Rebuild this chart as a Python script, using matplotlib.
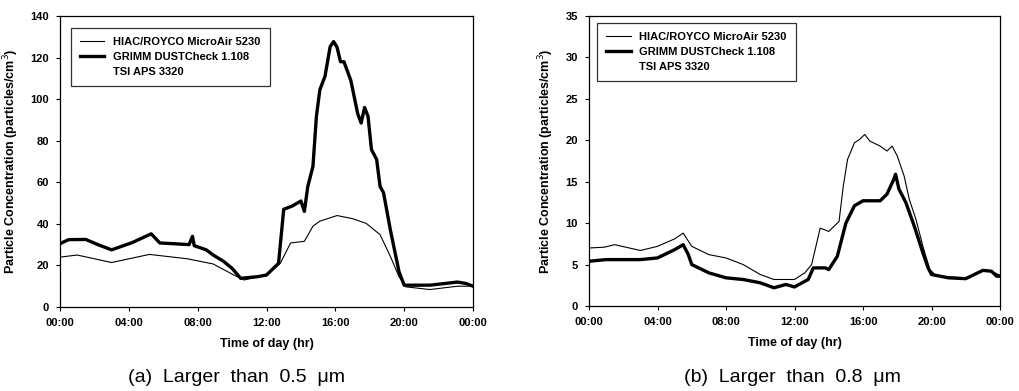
import matplotlib
matplotlib.use("Agg")
import matplotlib.pyplot as plt
from matplotlib.lines import Line2D

# ---- data (hours of day, concentration) ----
# (a) larger than 0.5 um
a_hiac_t = [0, 1.0, 3.0, 5.2, 7.4, 8.9, 10.1, 10.7, 12.0, 12.8, 13.4, 14.2, 14.7, 15.1, 16.1, 17.0, 17.8, 18.6, 19.2, 19.7, 20.1, 21.5, 23.1, 24.0]
a_hiac_v = [24.0, 25.0, 21.4, 25.3, 23.2, 20.7, 15.4, 13.0, 15.4, 21.0, 30.8, 31.6, 38.9, 41.3, 44.0, 42.5, 40.2, 34.8, 24.3, 14.6, 9.7, 8.4, 10.0, 10.0]

a_grimm_t = [0, 0.5, 1.5, 2.2, 3.0, 4.2, 5.3, 5.8, 6.5, 7.5, 7.7, 7.8, 8.5, 8.9, 9.5, 10.0, 10.5, 11.5, 12.0, 12.7, 13.0, 13.5, 14.0, 14.2, 14.4, 14.7, 14.9, 15.1, 15.4, 15.7, 15.9, 16.1, 16.3, 16.5, 16.9, 17.3, 17.5, 17.7, 17.9, 18.1, 18.4, 18.6, 18.8, 19.2, 19.7, 20.0, 21.5, 23.1, 23.6, 24.0]
a_grimm_v = [30.5, 32.4, 32.5, 30.0, 27.5, 31.0, 35.2, 30.8, 30.5, 30.0, 34.0, 29.5, 27.5, 25.0, 22.0, 18.6, 13.8, 14.6, 15.4, 21.0, 47.0, 48.6, 51.0, 46.0, 58.0, 67.7, 91.7, 104.5, 111.0, 125.3, 127.7, 125.0, 118.0, 118.0, 109.0, 93.0, 88.5, 96.0, 91.7, 75.7, 71.0, 58.0, 55.0, 37.0, 17.0, 10.5, 10.5, 12.0, 11.3, 10.0]

# (b) larger than 0.8 um
b_hiac_t = [0, 0.9, 1.5, 3.0, 4.0, 5.0, 5.5, 6.0, 7.0, 8.0, 9.0, 10.0, 10.8, 12.0, 12.6, 13.0, 13.5, 14.0, 14.6, 14.85, 15.1, 15.5, 15.8, 16.1, 16.4, 17.0, 17.4, 17.7, 18.0, 18.4, 18.7, 19.1, 19.5, 19.9, 20.3, 21.0, 22.0, 23.0, 23.4, 24.0]
b_hiac_v = [7.0, 7.1, 7.4, 6.7, 7.2, 8.1, 8.8, 7.2, 6.2, 5.8, 5.0, 3.8, 3.2, 3.2, 4.0, 5.0, 9.4, 9.0, 10.2, 14.5, 17.7, 19.7, 20.1, 20.7, 19.9, 19.3, 18.7, 19.3, 18.1, 15.7, 12.9, 10.4, 7.2, 4.4, 3.6, 3.5, 3.4, 4.2, 4.3, 3.7]

b_grimm_t = [0, 1.0, 3.0, 4.0, 5.0, 5.5, 5.8, 6.0, 7.0, 8.0, 9.0, 10.0, 10.8, 11.5, 12.0, 12.8, 13.1, 13.8, 14.0, 14.5, 15.0, 15.5, 16.0, 17.0, 17.4, 17.8, 17.9, 18.1, 18.5, 19.0, 19.5, 19.8, 20.0, 21.0, 22.0, 23.0, 23.5, 23.8, 24.0]
b_grimm_v = [5.4, 5.6, 5.6, 5.8, 6.8, 7.4, 6.2, 5.0, 4.0, 3.4, 3.2, 2.8, 2.2, 2.6, 2.3, 3.2, 4.6, 4.6, 4.4, 6.0, 10.0, 12.1, 12.7, 12.7, 13.5, 15.3, 15.9, 14.1, 12.5, 9.6, 6.4, 4.6, 3.8, 3.4, 3.3, 4.3, 4.2, 3.6, 3.6]

x_ticks = [0, 4, 8, 12, 16, 20, 24]
x_ticklabels = ["00:00", "04:00", "08:00", "12:00", "16:00", "20:00", "00:00"]
series_names = ["HIAC/ROYCO MicroAir 5230", "GRIMM DUSTCheck 1.108", "TSI APS 3320"]

plt.rcParams['font.family'] = ['Liberation Sans', 'DejaVu Sans']

fig = plt.figure(figsize=(10.19, 3.91), dpi=100)
W, H = 1019, 391
ax1 = fig.add_axes([60 / W, 1 - 307 / H, 413 / W, 291 / H])
ax2 = fig.add_axes([589 / W, 1 - 306 / H, 411 / W, 290 / H])

panels = [
    (ax1, a_hiac_t, a_hiac_v, a_grimm_t, a_grimm_v, 140, 20, "(a)  Larger  than  0.5  μm", 236 / W, (0.027, 0.959)),
    (ax2, b_hiac_t, b_hiac_v, b_grimm_t, b_grimm_v, 35, 5, "(b)  Larger  than  0.8  μm", 792 / W, (0.02, 0.976)),
]

for ax, ht, hv, gt, gv, ymax, ystep, cap, capx, anchor in panels:
    ax.plot(ht, hv, color='black', lw=0.8)
    ax.plot(gt, gv, color='black', lw=2.4)
    ax.set_xlim(0, 24)
    ax.set_ylim(0, ymax)
    ax.set_xticks(x_ticks)
    ax.set_xticklabels(x_ticklabels)
    ax.set_yticks(range(0, ymax + 1, ystep))
    ax.tick_params(direction='out', length=3, width=0.8, labelsize=8, pad=5)
    for lab in ax.get_xticklabels() + ax.get_yticklabels():
        lab.set_fontweight('bold')
    for sp in ax.spines.values():
        sp.set_linewidth(0.9)
    ax.set_xlabel("Time of day (hr)", fontsize=9, fontweight='bold', labelpad=7)
    ax.set_ylabel("Particle Concentration (particles/cm$^3$)", fontsize=9, fontweight='bold', labelpad=7)
    handles = [Line2D([], [], color='black', lw=0.8),
               Line2D([], [], color='black', lw=2.4),
               Line2D([], [], color='none', lw=0)]
    leg = ax.legend(handles, series_names, loc='upper left', fontsize=8,
                    frameon=True, fancybox=False, edgecolor='black',
                    handlelength=2.2, borderpad=0.8, labelspacing=0.45,
                    bbox_to_anchor=anchor, borderaxespad=0)
    leg.get_frame().set_linewidth(0.9)
    for t in leg.get_texts():
        t.set_fontweight('bold')
    fig.text(capx, 1 - 377 / H, cap, ha='center', va='center', fontsize=14,
             family=['Liberation Sans', 'DejaVu Sans'])

fig.savefig("out.png", dpi=100)
